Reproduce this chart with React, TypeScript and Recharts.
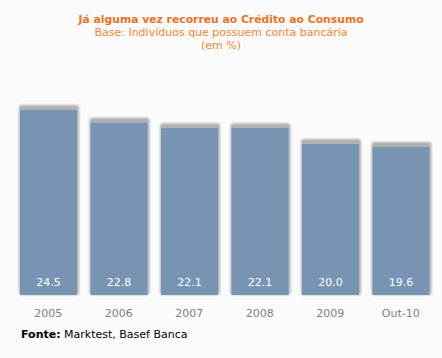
import React from 'react';
import { BarChart, Bar, XAxis, YAxis, LabelList } from 'recharts';

const categories = ['2005', '2006', '2007', '2008', '2009', 'Out-10'];
const values = [24.5, 22.8, 22.1, 22.1, 20.0, 19.6];

const data = categories.map((cat, i) => ({ cat, value: values[i] }));

const FONT = '"DejaVu Sans", Verdana, sans-serif';

const ShadowBar = (props: any) => {
  const { x, y, width, height } = props;
  return (
    <g>
      <rect x={x - 1} y={y - 5} width={width + 3} height={height + 5} rx={3} fill="#b0b0b0" filter="url(#barShadow)" />
      <rect x={x} y={y} width={width} height={height} fill="#7894b3" />
    </g>
  );
};

const ValueLabel = (props: any) => {
  const { x, y, width, height, value } = props;
  return (
    <text x={x + width / 2} y={y + height - 12} textAnchor="middle" dominantBaseline="middle"
      fill="#ffffff" fontSize={11} fontFamily={FONT}>
      {Number(value).toFixed(1)}
    </text>
  );
};

const App: React.FC = () => {
  if (typeof document !== 'undefined') document.body.style.margin = '0';
  return (
    <div style={{ position: 'relative', width: 442, height: 358, background: '#fbfbfb', fontFamily: FONT }}>
      <div style={{ position: 'absolute', top: 13, left: 0, width: 442, textAlign: 'center', lineHeight: '13px', fontSize: 11 }}>
        <div style={{ color: '#f0701e', fontWeight: 'bold', fontSize: 10.8 }}>Já alguma vez recorreu ao Crédito ao Consumo</div>
        <div style={{ color: '#f5852e' }}>Base: Indivíduos que possuem conta bancária</div>
        <div style={{ color: '#f5852e' }}>(em %)</div>
      </div>
      <BarChart width={442} height={358} data={data} margin={{ top: 68.5, right: 6, bottom: 33, left: 13 }}
        style={{ position: 'absolute', top: 0, left: 0 }}>
        <defs>
          <filter id="barShadow" x="-10%" y="-10%" width="120%" height="120%">
            <feGaussianBlur stdDeviation="1" />
          </filter>
        </defs>
        <XAxis dataKey="cat" axisLine={false} tickLine={false} height={30} tickMargin={8}
          tick={{ fill: '#808080', fontSize: 11, fontFamily: FONT }} interval={0} />
        <YAxis hide domain={[0, 30]} />
        <Bar dataKey="value" barSize={57} shape={<ShadowBar />} isAnimationActive={false}>
          <LabelList dataKey="value" content={<ValueLabel />} />
        </Bar>
      </BarChart>
      <div style={{ position: 'absolute', left: 21, top: 328, fontSize: 11, color: '#000' }}>
        <b>Fonte:</b> Marktest, Basef Banca
      </div>
    </div>
  );
};

export default App;
